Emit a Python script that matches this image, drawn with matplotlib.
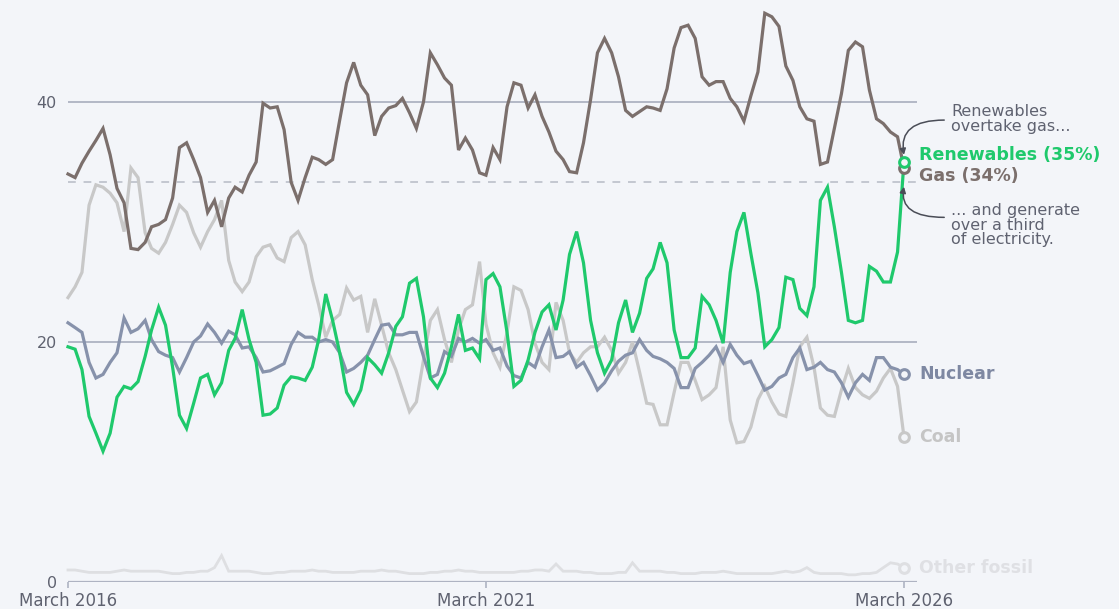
import matplotlib
matplotlib.use("Agg")
import matplotlib.pyplot as plt
import pandas as pd

plt.rcParams["font.family"] = ["DejaVu Sans"]

# monthly share of electricity generation (%), March 2016 .. March 2026
months = pd.date_range("2016-03-01", "2026-03-01", freq="MS")

gas = [34.0, 33.7, 34.9, 35.9, 36.8, 37.8, 35.6, 32.8, 31.6, 27.8, 27.7, 28.3, 29.6, 29.8, 30.2,
       32.0, 36.2, 36.6, 35.2, 33.7, 30.8, 31.8, 29.6, 32.0, 32.9, 32.5, 33.9, 35.0, 39.9, 39.5,
       39.6, 37.7, 33.3, 31.8, 33.7, 35.4, 35.2, 34.8, 35.2, 38.5, 41.6, 43.3, 41.4, 40.6, 37.2,
       38.8, 39.5, 39.7, 40.3, 39.1, 37.8, 40.0, 44.1, 43.1, 42.0, 41.4, 36.0, 37.0, 36.0, 34.1,
       33.9, 36.2, 35.2, 39.6, 41.6, 41.4, 39.5, 40.6, 38.8, 37.5, 35.9, 35.2, 34.2, 34.1, 36.6,
       40.2, 44.1, 45.3, 44.1, 42.1, 39.3, 38.8, 39.2, 39.6, 39.5, 39.3, 41.1, 44.5, 46.2, 46.4,
       45.3, 42.1, 41.4, 41.7, 41.7, 40.3, 39.6, 38.4, 40.5, 42.5, 47.4, 47.1, 46.3, 43.0, 41.8,
       39.6, 38.6, 38.4, 34.8, 35.0, 37.8, 40.7, 44.3, 45.0, 44.6, 41.0, 38.6, 38.2, 37.5, 37.1,
       34.5]

renewables = [19.6, 19.4, 17.7, 13.8, 12.4, 10.9, 12.4, 15.4, 16.3, 16.1, 16.7, 18.8, 21.0, 22.9,
              21.4, 17.9, 13.9, 12.8, 14.9, 17.0, 17.3, 15.6, 16.6, 19.3, 20.3, 22.7, 20.2, 18.3,
              13.9, 14.0, 14.5, 16.4, 17.1, 17.0, 16.8, 17.9, 20.2, 24.0, 21.8, 19.1, 15.8, 14.8,
              16.0, 18.7, 18.1, 17.4, 19.1, 21.3, 22.1, 24.9, 25.3, 22.1, 17.0, 16.2, 17.4, 19.6,
              22.3, 19.3, 19.5, 18.6, 25.2, 25.7, 24.6, 20.8, 16.3, 16.8, 18.5, 20.8, 22.5, 23.1,
              21.0, 23.5, 27.3, 29.2, 26.6, 21.8, 19.1, 17.4, 18.5, 21.6, 23.5, 20.8, 22.4, 25.3,
              26.1, 28.3, 26.6, 21.0, 18.7, 18.7, 19.5, 23.8, 23.1, 21.8, 19.9, 25.8, 29.2, 30.8,
              27.4, 24.1, 19.6, 20.2, 21.2, 25.4, 25.2, 22.8, 22.2, 24.6, 31.8, 32.9, 29.6, 25.8,
              21.8, 21.6, 21.8, 26.3, 25.9, 25.0, 25.0, 27.5, 35.0]

nuclear = [21.6, 21.2, 20.8, 18.3, 17.0, 17.3, 18.3, 19.1, 22.0, 20.8, 21.1, 21.8, 20.2, 19.2, 18.9,
           18.7, 17.5, 18.7, 20.0, 20.5, 21.5, 20.8, 19.9, 20.9, 20.6, 19.5, 19.6, 18.7, 17.5, 17.6,
           17.9, 18.2, 19.8, 20.8, 20.4, 20.4, 20.0, 20.2, 20.0, 19.1, 17.5, 17.8, 18.3, 18.9, 20.2,
           21.4, 21.5, 20.6, 20.6, 20.8, 20.8, 18.8, 17.0, 17.3, 19.2, 18.8, 20.3, 20.0, 20.3, 19.9,
           20.2, 19.3, 19.5, 18.0, 17.2, 17.0, 18.3, 17.9, 19.6, 21.0, 18.7, 18.8, 19.2, 17.9, 18.3,
           17.2, 16.0, 16.6, 17.6, 18.4, 18.9, 19.1, 20.2, 19.3, 18.8, 18.6, 18.3, 17.8, 16.2, 16.2,
           17.8, 18.3, 18.9, 19.6, 18.3, 19.8, 18.9, 18.2, 18.4, 17.2, 16.0, 16.3, 17.0, 17.3, 18.7,
           19.5, 17.7, 17.9, 18.3, 17.7, 17.5, 16.6, 15.4, 16.6, 17.3, 16.8, 18.7, 18.7, 17.9, 17.7,
           17.3]

coal = [23.7, 24.6, 25.8, 31.4, 33.1, 32.9, 32.4, 31.6, 29.2, 34.5, 33.7, 29.1, 27.8, 27.4, 28.3,
        29.8, 31.4, 30.8, 29.1, 27.9, 29.2, 30.2, 31.8, 26.8, 25.0, 24.2, 25.0, 27.1, 27.9, 28.1,
        27.0, 26.7, 28.7, 29.2, 28.1, 25.2, 23.1, 20.4, 21.8, 22.3, 24.5, 23.5, 23.8, 20.8, 23.6,
        21.4, 19.1, 17.7, 16.0, 14.2, 15.0, 18.5, 21.8, 22.7, 20.2, 18.3, 21.0, 22.7, 23.1, 26.7,
        21.5, 19.1, 17.9, 20.8, 24.6, 24.3, 22.7, 19.9, 18.3, 17.7, 23.3, 21.8, 19.1, 18.3, 19.1,
        19.6, 19.6, 20.4, 19.3, 17.4, 18.3, 20.0, 17.5, 14.9, 14.8, 13.1, 13.1, 15.8, 18.3, 18.3,
        16.8, 15.2, 15.6, 16.2, 19.6, 13.5, 11.6, 11.7, 12.9, 15.2, 16.3, 15.0, 14.0, 13.8, 16.6,
        19.6, 20.4, 17.9, 14.5, 13.9, 13.8, 16.0, 17.8, 16.2, 15.6, 15.3, 15.9, 17.0, 17.8, 16.3,
        12.1]

other_fossil = [1.0, 1.0, 0.9, 0.8, 0.8, 0.8, 0.8, 0.9, 1.0, 0.9, 0.9, 0.9, 0.9, 0.9, 0.8, 0.7,
                0.7, 0.8, 0.8, 0.9, 0.9, 1.2, 2.2, 0.9, 0.9, 0.9, 0.9, 0.8, 0.7, 0.7, 0.8, 0.8,
                0.9, 0.9, 0.9, 1.0, 0.9, 0.9, 0.8, 0.8, 0.8, 0.8, 0.9, 0.9, 0.9, 1.0, 0.9, 0.9,
                0.8, 0.7, 0.7, 0.7, 0.8, 0.8, 0.9, 0.9, 1.0, 0.9, 0.9, 0.8, 0.8, 0.8, 0.8, 0.8,
                0.8, 0.9, 0.9, 1.0, 1.0, 0.9, 1.5, 0.9, 0.9, 0.9, 0.8, 0.8, 0.7, 0.7, 0.7, 0.8,
                0.8, 1.6, 0.9, 0.9, 0.9, 0.9, 0.8, 0.8, 0.7, 0.7, 0.7, 0.8, 0.8, 0.8, 0.9, 0.8,
                0.7, 0.7, 0.7, 0.7, 0.7, 0.7, 0.8, 0.9, 0.8, 0.9, 1.2, 0.8, 0.7, 0.7, 0.7, 0.7,
                0.6, 0.6, 0.7, 0.7, 0.8, 1.2, 1.6, 1.5, 1.2]

one_third = 100 / 3
tick_dates = ["2016-03-01", "2021-03-01", "2026-03-01"]
tick_labels = ["March 2016", "March 2021", "March 2026"]

BG = "#f3f5f9"
C_GAS = "#7b6f6c"
C_REN = "#1fc96c"
C_NUC = "#8792ab"
C_COAL = "#c8c8c8"
C_OTH = "#dedfe2"
C_GRID = "#aeb3c2"
C_TXT = "#5f6270"

fig = plt.figure(figsize=(11.19, 6.09), dpi=100, facecolor=BG)
ax = fig.add_axes([68 / 1119, 27 / 609, 849 / 1119, 570 / 609])
ax.set_facecolor(BG)
for s in ax.spines.values():
    s.set_visible(False)

x0 = months[0]
x1 = months[-1] + pd.Timedelta(days=57)
ax.set_xlim(x0, x1)
ax.set_ylim(0, 47.5)

# grid + axis line
for yv in (20, 40):
    ax.axhline(yv, color=C_GRID, lw=1.3, zorder=1)
ax.axhline(0, color=C_GRID, lw=1.6, zorder=1)
ax.axhline(one_third, color="#c3c7d0", lw=1.4, ls=(0, (4, 4)), zorder=1)

ax.set_yticks([0, 20, 40])
ax.set_yticklabels(["0", "20", "40"])
ax.tick_params(axis="y", length=0, pad=8, labelsize=11.5, labelcolor=C_TXT)
ax.set_xticks(pd.to_datetime(tick_dates))
ax.set_xticklabels(tick_labels)
ax.tick_params(axis="x", length=4, width=1.2, color=C_GRID, pad=3, labelsize=12,
               labelcolor=C_TXT)

lw = 2.3
series = [
    (other_fossil, C_OTH, 2.0),
    (coal, C_COAL, lw),
    (nuclear, C_NUC, lw),
    (gas, C_GAS, lw),
    (renewables, C_REN, lw),
]
for vals, col, w in series:
    ax.plot(months, vals, color=col, lw=w, solid_joinstyle="miter", zorder=3, clip_on=False)
    ax.plot(months[-1], vals[-1], "o", ms=7, mfc=BG, mec=col, mew=2.2, zorder=4, clip_on=False)

# end labels
last = months[-1]
labels = [
    ("Renewables (35%)", renewables[-1], 5, C_REN),
    ("Gas (34%)", gas[-1], -6, C_GAS),
    ("Nuclear", nuclear[-1], 0, "#7e88a2"),
    ("Coal", coal[-1], 0, "#c5c5c5"),
    ("Other fossil", other_fossil[-1], 0, "#dfe0e4"),
]
for txt, yv, dy, col in labels:
    ax.annotate(txt, xy=(last, yv), xytext=(11, dy), textcoords="offset points",
                ha="left", va="center", fontsize=12.5, fontweight="bold", color=col,
                annotation_clip=False)

# callouts
ax.annotate("Renewables\novertake gas...", xy=(last, renewables[-1]), xytext=(34, 31),
            textcoords="offset points", ha="left", va="center", fontsize=11.5,
            color=C_TXT, linespacing=0.95, annotation_clip=False)
ax.annotate("... and generate\nover a third\nof electricity.", xy=(last, one_third),
            xytext=(34, -31), textcoords="offset points", ha="left", va="center",
            fontsize=11.5, color=C_TXT, linespacing=0.95, annotation_clip=False)

ax.annotate("", xy=(last, renewables[-1] + 0.6), xytext=(29, 25), textcoords="offset points",
            annotation_clip=False,
            arrowprops=dict(arrowstyle="-|>,head_length=0.35,head_width=0.18", color="#4a4d57",
                            lw=1.1, shrinkA=0, shrinkB=0,
                            connectionstyle="angle3,angleA=180,angleB=-80"))
ax.annotate("", xy=(last, one_third - 0.4), xytext=(29, -22), textcoords="offset points",
            annotation_clip=False,
            arrowprops=dict(arrowstyle="-|>,head_length=0.35,head_width=0.18", color="#4a4d57",
                            lw=1.1, shrinkA=0, shrinkB=0,
                            connectionstyle="angle3,angleA=180,angleB=80"))

fig.savefig("out.png", dpi=100, facecolor=BG)
